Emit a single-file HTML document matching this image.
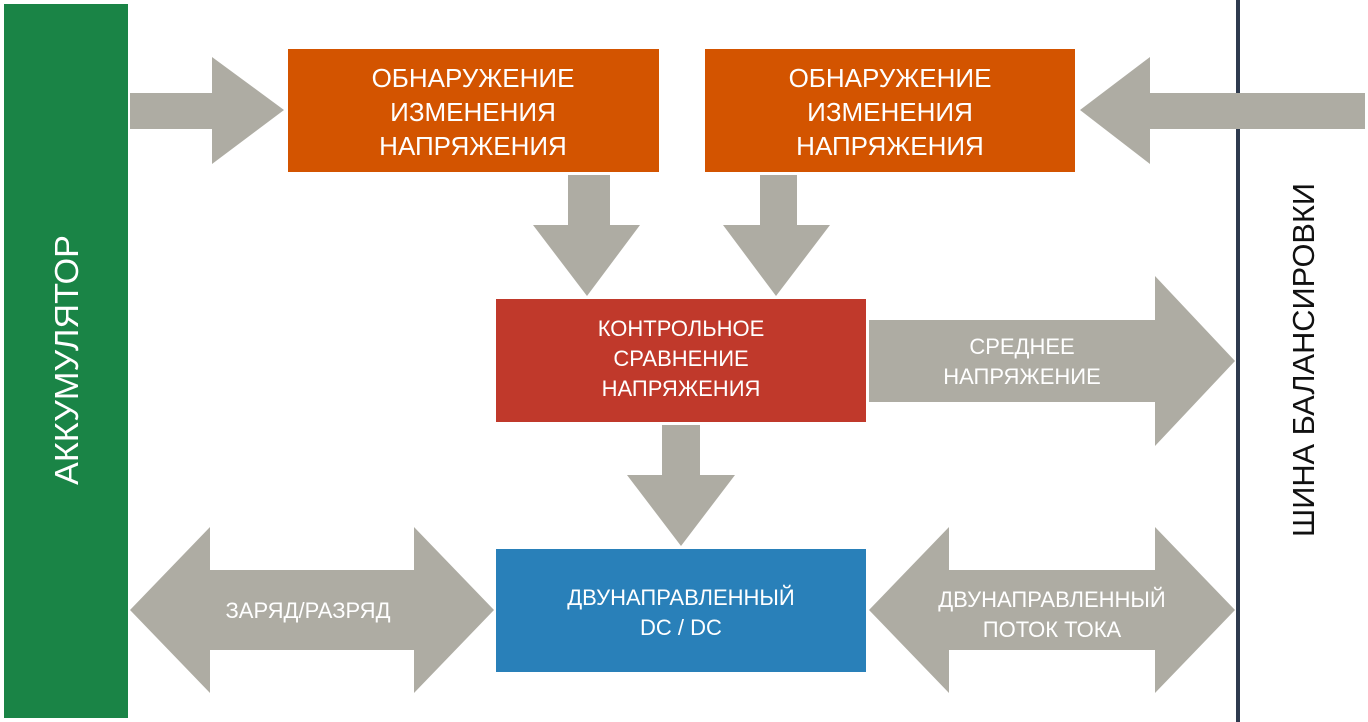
<!DOCTYPE html>
<html><head><meta charset="utf-8"><style>
html,body{margin:0;padding:0;background:#fff;}
svg{display:block;}
text{font-family:"Liberation Sans",sans-serif;}
</style></head><body>
<svg width="1368" height="722" viewBox="0 0 1368 722" xmlns="http://www.w3.org/2000/svg">
<rect x="0" y="0" width="1368" height="722" fill="#fff"/>
<rect x="4" y="4" width="124" height="714" fill="#1a8446"/>
<text transform="translate(78,360) rotate(-90)" text-anchor="middle" font-size="33" fill="#fff" textLength="250" lengthAdjust="spacingAndGlyphs">АККУМУЛЯТОР</text>
<rect x="1236" y="0" width="4" height="722" fill="#2e3a4e"/>
<text transform="translate(1314,360) rotate(-90)" text-anchor="middle" font-size="31" fill="#111" textLength="354" lengthAdjust="spacingAndGlyphs">ШИНА БАЛАНСИРОВКИ</text>
<g fill="#aeaca3">
<polygon points="130,93 212,93 212,57 284,110 212,164 212,129 130,129"/>
<polygon points="1365,93 1150,93 1150,57 1080,110 1150,164 1150,129 1365,129"/>
<polygon points="568,175 610,175 610,225 640,225 587,296 533,225 568,225"/>
<polygon points="760,175 797,175 797,225 830,225 776,296 723,225 760,225"/>
<polygon points="869,320 1155,320 1155,276 1235,361 1155,446 1155,402 869,402"/>
<polygon points="662,425 700,425 700,475 735,475 681,546 627,475 662,475"/>
<polygon points="130,610 210,527 210,570 414,570 414,527 494,610 414,693 414,650 210,650 210,693"/>
<polygon points="869,610 949,527 949,570 1155,570 1155,527 1235,610 1155,693 1155,650 949,650 949,693"/>
</g>
<rect x="288" y="49" width="371" height="123" fill="#d35400"/>
<rect x="705" y="49" width="370" height="123" fill="#d35400"/>
<g font-size="26" fill="#fff" text-anchor="middle">
<text x="473" y="87">ОБНАРУЖЕНИЕ</text><text x="473" y="121">ИЗМЕНЕНИЯ</text><text x="473" y="155">НАПРЯЖЕНИЯ</text>
<text x="890" y="87">ОБНАРУЖЕНИЕ</text><text x="890" y="121">ИЗМЕНЕНИЯ</text><text x="890" y="155">НАПРЯЖЕНИЯ</text>
</g>
<rect x="496" y="299" width="370" height="123" fill="#c0392b"/>
<rect x="496" y="549" width="370" height="123" fill="#2980b9"/>
<g font-size="22" fill="#fff" text-anchor="middle">
<text x="681" y="336">КОНТРОЛЬНОЕ</text><text x="681" y="366">СРАВНЕНИЕ</text><text x="681" y="396">НАПРЯЖЕНИЯ</text>
<text x="681" y="605">ДВУНАПРАВЛЕННЫЙ</text><text x="681" y="635">DC / DC</text>
<text x="1022" y="354">СРЕДНЕЕ</text><text x="1022" y="384">НАПРЯЖЕНИЕ</text>
<text x="308" y="618">ЗАРЯД/РАЗРЯД</text>
<text x="1052" y="607">ДВУНАПРАВЛЕННЫЙ</text><text x="1052" y="637">ПОТОК ТОКА</text>
</g>
</svg>
</body></html>
